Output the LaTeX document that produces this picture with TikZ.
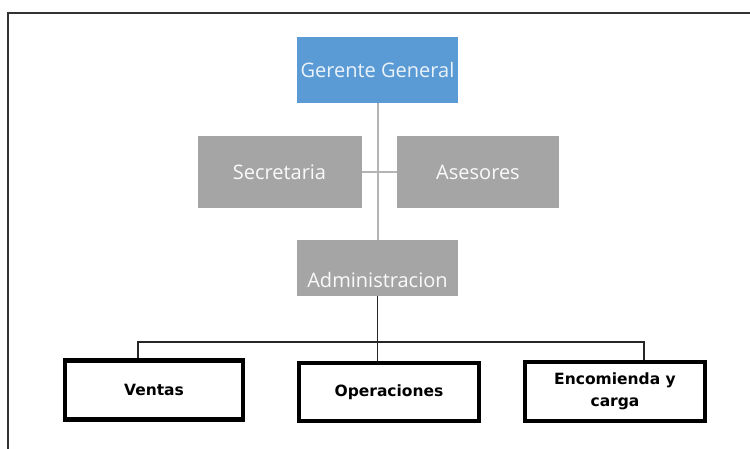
\documentclass[tikz,border=0pt]{standalone}
\usepackage{fontspec}
\setmainfont{Open Sans}
\newfontfamily\areafont{DejaVu Sans}
\usepackage{tikz}
\definecolor{azul}{HTML}{5B9BD5}
\definecolor{gris}{HTML}{A5A5A5}
\definecolor{linea}{HTML}{B4B4B4}
\tikzstyle{caja}=[rectangle,inner sep=0pt,font=\fontsize{20}{24}\selectfont]
\tikzstyle{jefe}=[caja,fill=azul,text=white!88!azul,minimum width=161pt,minimum height=66pt]
\tikzstyle{staff}=[caja,fill=gris,text=white!95!gris,minimum width=164pt,minimum height=72pt]
\tikzstyle{area}=[rectangle,draw=black,line width=4.3pt,minimum width=178pt,minimum height=59pt,
  align=center,font=\areafont\bfseries\fontsize{15.5}{22}\selectfont]

\begin{document}
\begin{tikzpicture}[x=1pt,y=-1pt]
        \useasboundingbox (0,0) rectangle (750,448);
        \draw[line width=2pt,black!80] (8,460) -- (8,13) -- (760,13);
        \node[jefe] (gerente) at (377.5,70) {Gerente General};
        \node[staff] (secretaria) at (279.5,172) {Secretaria};
        \node[staff,minimum width=162pt] (asesores) at (478,172) {Asesores};
        \node[staff,minimum width=161pt,minimum height=56pt,text height=47pt,text depth=9pt] (admin) at (377.5,268) {Administracion};
        \node[area] (ventas) at (154,390) {Ventas};
        \node[area,minimum width=180pt,minimum height=58pt] (operaciones) at (389,392) {Operaciones};
        \node[area,minimum width=180pt,minimum height=59pt] (encomienda) at (615,391.5) {Encomienda y\\carga};
        \coordinate (forkL) at (138,342);
        \coordinate (forkR) at (644,342);
        % linea de staff
        \draw[linea,line width=2pt] (gerente.south) -- (admin.north);
        \draw[linea,line width=2pt] (secretaria.east) -- (asesores.west);
        % areas
        \draw[black!85,line width=1.8pt] (admin.south) -- (admin.south |- operaciones.north);
        \draw[black!85,line width=1.8pt] (forkL |- ventas.north) -- (forkL) -- (forkR) -- (forkR |- encomienda.north);
\end{tikzpicture}
\end{document}
